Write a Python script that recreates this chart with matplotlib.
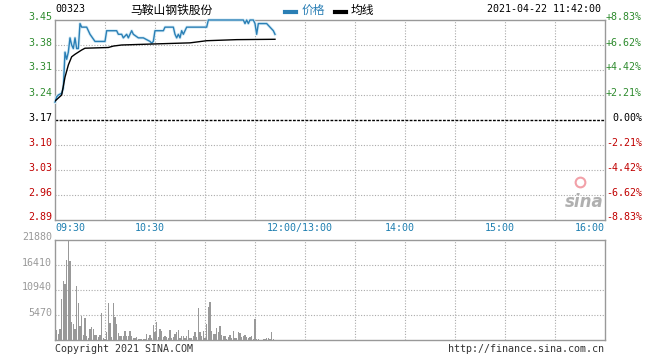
import numpy as np
import matplotlib
matplotlib.use('Agg')
import matplotlib.pyplot as plt
from matplotlib.lines import Line2D
from matplotlib.transforms import offset_copy

# Stock info
code = '00323'
name = '马鞍山钢铁股份'
stamp = '2021-04-22 11:42:00'
prev_close = 3.17

# Price line vertices (minutes after 09:30, price)
price_min = [0, 1, 2, 4, 5, 6, 7, 8, 9, 10, 11, 12, 13, 14, 15, 16, 19, 21, 24, 30,
             31, 37, 38, 40, 41, 43, 44, 45, 46, 47, 50, 53, 57, 58, 59, 60, 65, 66,
             71, 72, 73, 74, 75, 76, 77, 79, 91, 92, 113, 114, 115, 116, 117, 119,
             120, 121, 122, 127, 129, 131, 132]
price_val = [3.22, 3.235, 3.24, 3.245, 3.26, 3.36, 3.34, 3.36, 3.40, 3.38, 3.37, 3.40,
             3.37, 3.37, 3.44, 3.43, 3.43, 3.41, 3.39, 3.39, 3.42, 3.42, 3.41, 3.41,
             3.40, 3.41, 3.40, 3.41, 3.42, 3.41, 3.40, 3.40, 3.39, 3.385, 3.39, 3.42,
             3.42, 3.43, 3.43, 3.41, 3.40, 3.41, 3.40, 3.42, 3.41, 3.43, 3.43, 3.45,
             3.45, 3.44, 3.45, 3.44, 3.45, 3.45, 3.44, 3.41, 3.44, 3.44, 3.43, 3.42, 3.41]

# Average price line vertices
avg_min = [0, 4, 6, 8, 10, 12, 16, 18, 32, 35, 40, 60, 81, 91, 109, 132]
avg_val = [3.223, 3.24, 3.29, 3.324, 3.347, 3.354, 3.366, 3.371, 3.373, 3.377,
           3.38, 3.383, 3.386, 3.392, 3.395, 3.396]

# Volume per minute, 09:30 .. 11:42
volume = [300, 2200, 1300, 2400, 9000, 12800, 12300, 17600, 21880, 17300,
          3900, 3400, 2300, 11800, 8000, 3000, 5200, 1100, 4800, 900,
          400, 2300, 2800, 2300, 1200, 1200, 600, 1100, 6000, 400,
          300, 1800, 8000, 3700, 700, 8000, 5000, 3500, 1500, 900,
          900, 900, 1900, 900, 900, 2000, 900, 500, 500, 650,
          150, 300, 300, 300, 300, 1300, 400, 1100, 500, 3300,
          1800, 3900, 650, 2500, 2000, 650, 900, 700, 400, 2200,
          500, 700, 1300, 1750, 2200, 500, 800, 800, 500, 900,
          2200, 500, 500, 800, 1750, 600, 6900, 1750, 900, 2000,
          400, 3500, 7150, 8300, 2000, 1300, 1300, 2600, 1750, 3000,
          1100, 900, 900, 300, 700, 1000, 400, 2000, 400, 500,
          1750, 1600, 700, 900, 1200, 700, 400, 700, 900, 300,
          4600, 200, 300, 100, 0, 150, 200, 400, 500, 300,
          1750, 200, 0]

price_ticks = [3.45, 3.38, 3.31, 3.24, 3.17, 3.10, 3.03, 2.96, 2.89]
price_labels = ['3.45', '3.38', '3.31', '3.24', '3.17', '3.10', '3.03', '2.96', '2.89']
pct_labels = ['+8.83%', '+6.62%', '+4.42%', '+2.21%', '0.00%', '-2.21%', '-4.42%', '-6.62%', '-8.83%']
vol_ticks = [21880, 16410, 10940, 5470]
vol_labels = ['21880', '16410', '10940', '5470']
time_labels = ['09:30', '10:30', '12:00/13:00', '14:00', '15:00', '16:00']
time_ticks = [0, 60, 150, 210, 270, 330]

green = '#2e8b2e'
red = '#c00000'
blue_t = '#1f7fb0'
line_blue = '#2a7fb5'
grey = '#999999'
mono = 'DejaVu Sans Mono'
fs = 7.2

fig = plt.figure(figsize=(6.6, 3.6), dpi=100)
W, H = 660, 360
ax = fig.add_axes([55 / W, 1 - 220 / H, 550 / W, 200 / H])
axv = fig.add_axes([55 / W, 1 - 340 / H, 550 / W, 100 / H])

for a in (ax, axv):
    a.set_xlim(0, 330)
    a.set_xticks([])
    a.set_yticks([])
    for s in a.spines.values():
        s.set_color(grey)
        s.set_linewidth(1)
    for m in range(30, 330, 30):
        a.axvline(m, color='#aaaaaa', lw=0.8, ls=(0, (1, 1.5)), zorder=0)

# price panel
ax.set_ylim(2.89, 3.45)
for v in price_ticks[1:-1]:
    if v == prev_close:
        ax.axhline(v, color='black', lw=1, ls=(0, (2, 1)), zorder=1)
    else:
        ax.axhline(v, color='#aaaaaa', lw=0.8, ls=(0, (1, 1.5)), zorder=0)
ax.plot(price_min, price_val, color='#d6ecf7', lw=2.2, zorder=4, clip_on=False)
ax.plot(price_min, price_val, color=line_blue, lw=1.0, zorder=5, clip_on=False)
ax.plot(avg_min, avg_val, color='black', lw=1.0, zorder=5)

tl = offset_copy(ax.get_yaxis_transform(), fig=fig, x=-3, y=2.5, units='dots')
tr = offset_copy(ax.get_yaxis_transform(), fig=fig, x=37, y=2.5, units='dots')
for v, lab, pl in zip(price_ticks, price_labels, pct_labels):
    c = green if v > prev_close else ('black' if v == prev_close else red)
    ax.text(0, v, lab, transform=tl, ha='right', va='center', color=c,
            family=mono, fontsize=fs)
    ax.text(1, v, pl, transform=tr, ha='right', va='center', color=c,
            family=mono, fontsize=fs)

# time labels
for i, (m, lab) in enumerate(zip(time_ticks, time_labels)):
    if i == 0:
        ha, dx = 'left', 0
    elif i == len(time_ticks) - 1:
        ha, dx = 'right', 0
    else:
        ha, dx = 'center', -5
    t = offset_copy(ax.get_xaxis_transform(), fig=fig, x=dx, y=-8, units='dots')
    ax.text(m, 0, lab, transform=t, ha=ha, va='center', color=blue_t,
            family=mono, fontsize=fs)

# sina watermark
ax.text(0.962, 0.09, 'sina', transform=ax.transAxes, ha='center', va='center',
        color='#b0b0b0', fontsize=12, fontweight='bold', style='italic',
        family='DejaVu Sans')
ax.plot([0.955], [0.19], transform=ax.transAxes, marker='o', ms=7,
        mfc='none', mec='#f2a0a8', mew=1.5)

# volume panel
axv.set_ylim(0, 21880)
for v in vol_ticks[1:]:
    axv.axhline(v, color='#aaaaaa', lw=0.8, ls=(0, (1, 1.5)), zorder=0)
axv.bar(np.arange(len(volume)), volume, width=0.7, color=grey, zorder=2)
tv = offset_copy(axv.get_yaxis_transform(), fig=fig, x=-3, y=2.5, units='dots')
for v, lab in zip(vol_ticks, vol_labels):
    axv.text(0, v, lab, transform=tv, ha='right', va='center', color=grey,
             family=mono, fontsize=fs)

# header
fig.text(55 / W, 1 - 9 / H, code, ha='left', va='center', family=mono, fontsize=fs)
fig.text(171 / W, 1 - 10 / H, name, ha='center', va='center',
         family=['Noto Sans CJK SC', 'DejaVu Sans'], fontsize=8.5)
fig.add_artist(Line2D([285 / W, 296 / W], [1 - 12 / H, 1 - 12 / H], color=line_blue, lw=3))
fig.text(302 / W, 1 - 10 / H, '价格', ha='left', va='center',
         family=['Noto Sans CJK SC', 'DejaVu Sans'], fontsize=8.5, color=line_blue)
fig.add_artist(Line2D([335 / W, 346 / W], [1 - 12 / H, 1 - 12 / H], color='black', lw=3))
fig.text(351 / W, 1 - 10 / H, '均线', ha='left', va='center',
         family=['Noto Sans CJK SC', 'DejaVu Sans'], fontsize=8.5)
fig.text(601 / W, 1 - 9 / H, stamp, ha='right', va='center', family=mono, fontsize=fs)

# footer
fig.text(55 / W, 1 - 349 / H, 'Copyright 2021 SINA.COM', ha='left', va='center',
         family=mono, fontsize=fs, color='#333333')
fig.text(604 / W, 1 - 349 / H, 'http://finance.sina.com.cn', ha='right', va='center',
         family=mono, fontsize=fs, color='#333333')

fig.savefig('out.png', dpi=100, facecolor='white')
